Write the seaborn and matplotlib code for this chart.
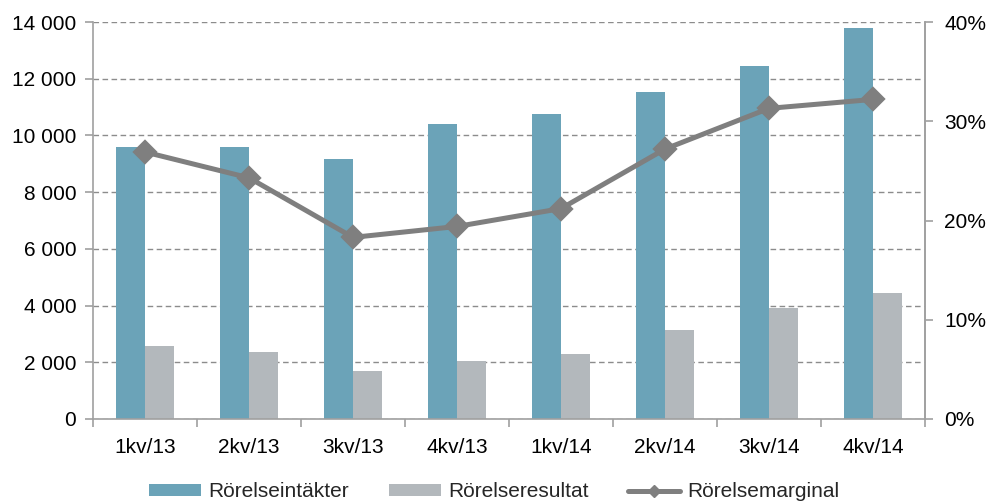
import matplotlib
matplotlib.use("Agg")
import matplotlib.pyplot as plt
import matplotlib.ticker as mticker
from matplotlib.patches import Patch
from matplotlib.lines import Line2D
import seaborn as sns
import pandas as pd

quarters = ["1kv/13", "2kv/13", "3kv/13", "4kv/13", "1kv/14", "2kv/14", "3kv/14", "4kv/14"]
intakter = [9600, 9580, 9170, 10400, 10750, 11530, 12450, 13790]
resultat = [2570, 2360, 1690, 2045, 2290, 3140, 3910, 4440]
marginal = [26.9, 24.3, 18.3, 19.4, 21.2, 27.2, 31.3, 32.2]
series_names = ["Rörelseintäkter", "Rörelseresultat", "Rörelsemarginal"]

c_blue = "#6BA3B8"
c_gray = "#B3B8BC"
c_line = "#7F7F7F"
c_axis = "#A0A0A0"
FS = 15

sns.set_theme(style="white")
plt.rcParams["font.family"] = ["Liberation Sans", "DejaVu Sans"]
plt.rcParams["font.size"] = FS

df = pd.DataFrame({
    "q": quarters * 2,
    "v": intakter + resultat,
    "s": [series_names[0]] * len(quarters) + [series_names[1]] * len(quarters),
})

fig = plt.figure(figsize=(9.89, 5.01), dpi=100)
ax = fig.add_axes([93 / 989, 1 - 419 / 501, (925 - 93) / 989, (419 - 22) / 501])

sns.barplot(data=df, x="q", y="v", hue="s", order=quarters,
            hue_order=series_names[:2], palette=[c_blue, c_gray],
            width=0.56, ax=ax, legend=False, saturation=1, edgecolor="none")

ax.set_ylim(0, 14000)
ax.set_xlim(-0.5, len(quarters) - 0.5)
ax.yaxis.set_major_locator(mticker.MultipleLocator(2000))
ax.yaxis.set_major_formatter(mticker.FuncFormatter(lambda v, p: f"{int(v):,}".replace(",", " ")))
ax.set_xlabel("")
ax.set_ylabel("")
ax.grid(axis="y", color="#8C8C8C", linestyle=(0, (4, 2.5)), linewidth=1)
ax.set_axisbelow(True)

ax.spines["top"].set_visible(False)
for side in ["left", "bottom", "right"]:
    ax.spines[side].set_color(c_axis)
    ax.spines[side].set_linewidth(1.2)

ax.tick_params(axis="y", which="major", left=True, length=6, width=1.2, color=c_axis,
               labelsize=FS, labelcolor="black", pad=6)
ax.set_xticks(range(len(quarters)))
ax.set_xticklabels(quarters)
ax.set_xticks([i + 0.5 for i in range(-1, len(quarters))], minor=True)
ax.tick_params(axis="x", which="major", bottom=False, labelsize=FS, labelcolor="black", pad=8)
ax.tick_params(axis="x", which="minor", bottom=True, length=6, width=1.2, color=c_axis)

ax2 = ax.twinx()
sns.pointplot(x=quarters, y=marginal, order=quarters, ax=ax2, color=c_line,
              markers="D", linestyles="-", linewidth=3.6, markersize=10)
ax2.set_ylim(0, 40)
ax2.set_xlim(-0.5, len(quarters) - 0.5)
ax2.yaxis.set_major_locator(mticker.MultipleLocator(10))
ax2.yaxis.set_major_formatter(mticker.FuncFormatter(lambda v, p: f"{int(v)}%"))
ax2.set_ylabel("")
for side in ["top", "left", "bottom"]:
    ax2.spines[side].set_visible(False)
ax2.spines["right"].set_color(c_axis)
ax2.spines["right"].set_linewidth(1.2)
ax2.tick_params(axis="y", right=True, length=6, width=1.2, color=c_axis,
                labelsize=FS, labelcolor="black", pad=8)
ax2.grid(False)

handles = [
    Patch(facecolor=c_blue, edgecolor="none"),
    Patch(facecolor=c_gray, edgecolor="none"),
    Line2D([0], [0], color=c_line, linewidth=3.6, marker="D", markersize=6),
]
fig.legend(handles, series_names, loc="center", bbox_to_anchor=(0.5, 0.018), ncol=3,
           frameon=False, fontsize=FS, handlelength=2.5, handleheight=0.5,
           columnspacing=1.9, handletextpad=0.35, borderpad=0, borderaxespad=0)

fig.savefig("out.png", dpi=100)
